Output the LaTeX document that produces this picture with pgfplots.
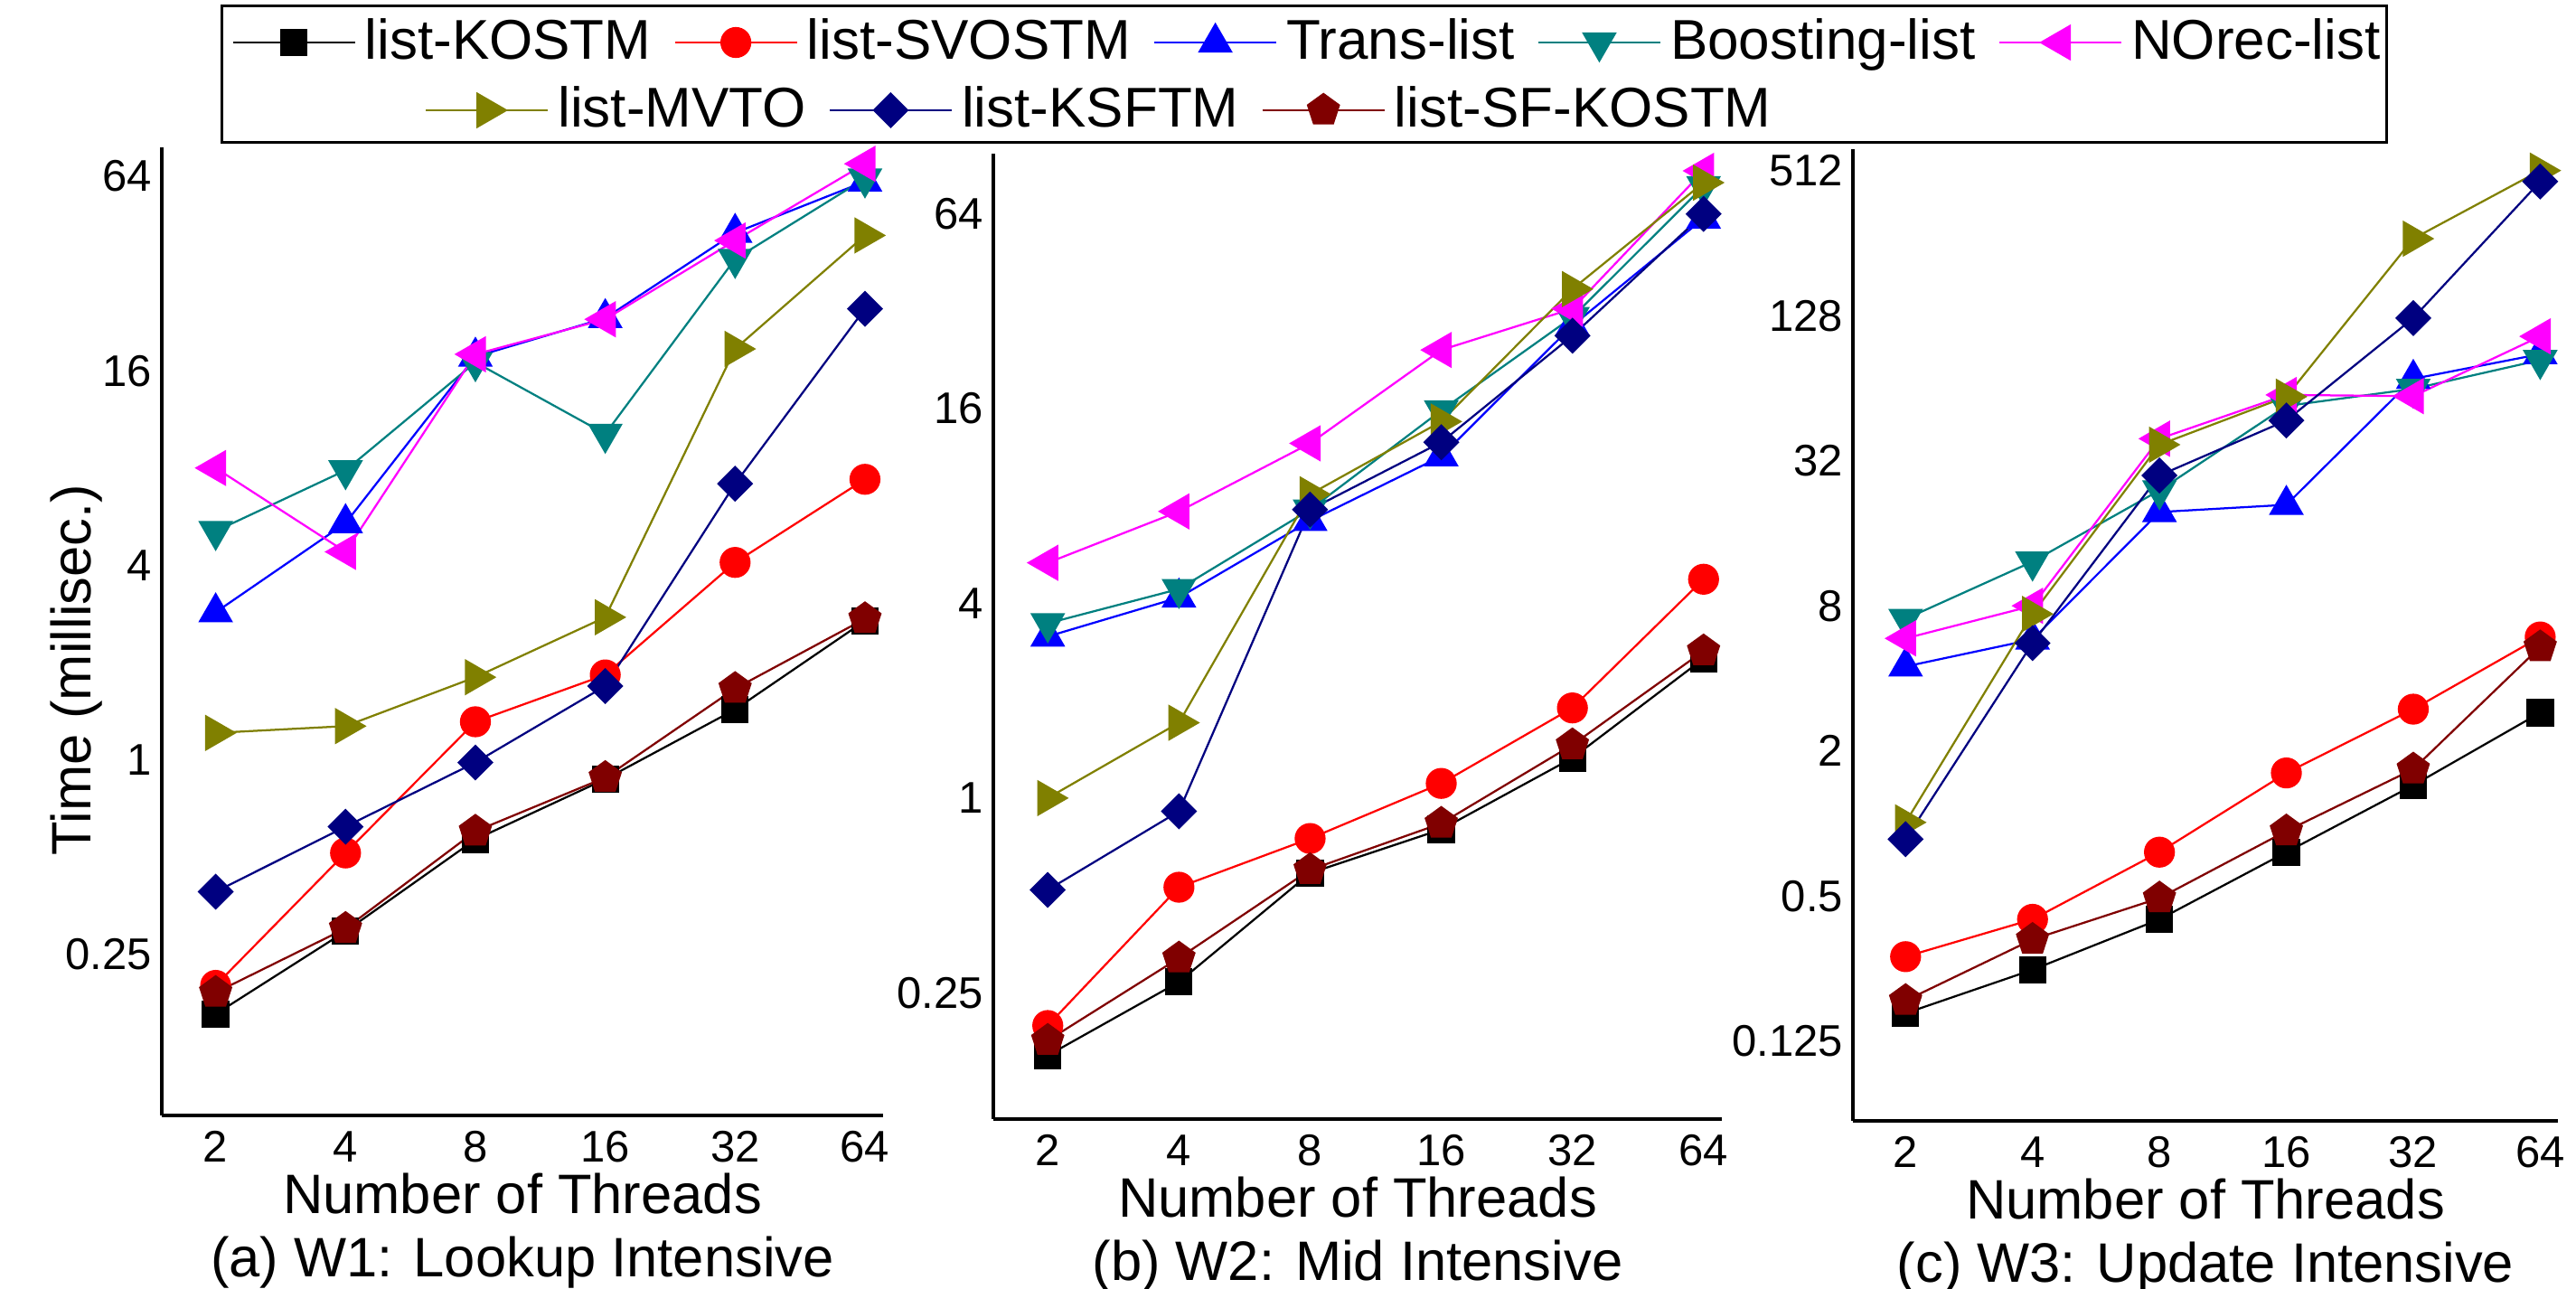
\documentclass[border=0pt]{standalone}
\usepackage{fontspec}
\setmainfont{Liberation Sans}
\usepackage{pgfplots}
\pgfplotsset{compat=1.18}
\usetikzlibrary{plotmarks}
\definecolor{cteal}{rgb}{0,0.5,0.5}
\definecolor{colive}{rgb}{0.5,0.5,0}
\definecolor{cnavy}{rgb}{0,0,0.5}
\definecolor{cdred}{rgb}{0.5,0,0}
\definecolor{cmag}{rgb}{1,0,1}
\definecolor{cred}{rgb}{1,0,0}
\definecolor{cblue}{rgb}{0,0,1}
\tikzset{
 pKO/.style={black, line width=0.45pt, mark=square*, mark size=2.8pt, mark options={solid}},
 pSV/.style={cred, line width=0.45pt, mark=*, mark size=3.2pt, mark options={solid}},
 pTR/.style={cblue, line width=0.45pt, mark=triangle*, mark size=4pt, mark options={solid}},
 pBO/.style={cteal, line width=0.45pt, mark=triangle*, mark size=4pt, mark options={solid, rotate=180}},
 pNO/.style={cmag, line width=0.45pt, mark=triangle*, mark size=4.2pt, mark options={solid, rotate=90}},
 pMV/.style={colive, line width=0.45pt, mark=triangle*, mark size=4.2pt, mark options={solid, rotate=-90}},
 pKS/.style={cnavy, line width=0.45pt, mark=square*, mark size=2.6pt, mark options={solid, rotate=45}},
 pSF/.style={cdred, line width=0.45pt, mark=pentagon*, mark size=3.6pt, mark options={solid}},
}
\pgfplotsset{
 scale only axis,
 axis lines=left, axis line style={-, line width=0.9pt},
 major tick length=0pt, minor tick length=0pt,
 tick label style={font=\fontsize{9.8}{11}\selectfont},
 yticklabel style={inner xsep=2pt},
 xlabel style={font=\fontsize{12.3}{14}\selectfont, at={(axis description cs:0.5,0)}, anchor=base, yshift=-21.6pt, inner sep=0pt},
 title style={font=\fontsize{12.3}{14}\selectfont, at={(axis description cs:0.5,0)}, anchor=base, yshift=-41.6pt, inner sep=0pt},
 legend style={draw=none, fill=none, font=\fontsize{12.4}{14}\selectfont, anchor=center, /tikz/every odd column/.append style={column sep=0pt}, /tikz/every even column/.append style={column sep=3pt}},
 legend columns=-1,
 legend image code/.code={\draw[mark repeat=2,mark phase=2] plot coordinates {(0pt,0pt) (13.5pt,0pt) (27pt,0pt)};},
}
\begin{document}
\begin{tikzpicture}
\path[use as bounding box] (0pt,0pt) rectangle (570pt,285pt);
% Panel (a)
\begin{axis}[xmode=log, ymode=log, log basis x=2, log basis y=2,
  xmin=1.5, xmax=70.5, clip=false,
  xtick={2,4,8,16,32,64}, xticklabels={2,4,8,16,32,64},
  xlabel={Number of Threads},
  at={(35.8pt,38.2pt)}, anchor=south west,
  width=159.6pt, height=214.2pt, ymin=0.0791, ymax=78.7,
  ytick={0.25,1,4,16,64}, yticklabels={0.25,1,4,16,64},
  ylabel={Time (millisec.)},
  ylabel style={font=\fontsize{12.3}{14}\selectfont, at={(axis description cs:-0.118,0.46)}, anchor=center},
  title={(a) W1: Lookup Intensive},
  legend style={at={(1.5927,1.1083)}}]
\addplot[pKO] coordinates {(2,0.163)(4,0.294)(8,0.566)(16,0.87)(32,1.43)(64,2.69)};
\addlegendentry{list-KOSTM}
\addplot[pSV] coordinates {(2,0.20)(4,0.514)(8,1.31)(16,1.83)(32,4.08)(64,7.38)};
\addlegendentry{list-SVOSTM}
\addplot[pTR] coordinates {(2,2.86)(4,5.4)(8,17.7)(16,23.3)(32,42.8)(64,61.7)};
\addlegendentry{Trans-list}
\addplot[pBO] coordinates {(2,5.1)(4,7.87)(8,17.0)(16,10.2)(32,35.5)(64,63)};
\addlegendentry{Boosting-list}
\addplot[pNO] coordinates {(2,8.0)(4,4.4)(8,18)(16,23.1)(32,40.5)(64,70)};
\addlegendentry{NOrec-list}
\addplot[pMV] coordinates {(2,1.21)(4,1.27)(8,1.80)(16,2.76)(32,18.7)(64,42)};
\addplot[pKS] coordinates {(2,0.39)(4,0.62)(8,0.98)(16,1.69)(32,7.15)(64,24.9)};
\addplot[pSF] coordinates {(2,0.19)(4,0.30)(8,0.60)(16,0.88)(32,1.66)(64,2.73)};
\end{axis}
% Panel (b)
\begin{axis}[xmode=log, ymode=log, log basis x=2, log basis y=2,
  xmin=1.5, xmax=70.5, clip=false,
  xtick={2,4,8,16,32,64}, xticklabels={2,4,8,16,32,64},
  xlabel={Number of Threads},
  at={(219.8pt,37.4pt)}, anchor=south west,
  width=161.2pt, height=213.6pt, ymin=0.1017, ymax=98.3,
  ytick={0.25,1,4,16,64}, yticklabels={0.25,1,4,16,64},
  title={(b) W2: Mid Intensive},
  legend style={at={(0.150,1.045)}}]
\addlegendimage{pMV}
\addlegendentry{list-MVTO}
\addlegendimage{pKS}
\addlegendentry{list-KSFTM}
\addlegendimage{pSF}
\addlegendentry{list-SF-KOSTM}
\addplot[pKO] coordinates {(2,0.16)(4,0.27)(8,0.586)(16,0.80)(32,1.33)(64,2.7)};
\addplot[pSV] coordinates {(2,0.198)(4,0.53)(8,0.75)(16,1.11)(32,1.9)(64,4.75)};
\addplot[pTR] coordinates {(2,3.16)(4,4.17)(8,7.2)(16,11.4)(32,28.9)(64,62)};
\addplot[pBO] coordinates {(2,3.47)(4,4.43)(8,7.8)(16,15.8)(32,30.7)(64,78)};
\addplot[pNO] coordinates {(2,5.34)(4,7.7)(8,12.5)(16,24.3)(32,32.6)(64,87)};
\addplot[pMV] coordinates {(2,1.0)(4,1.71)(8,8.7)(16,14.6)(32,37.5)(64,80)};
\addplot[pKS] coordinates {(2,0.52)(4,0.91)(8,7.8)(16,12.6)(32,26.9)(64,64)};
\addplot[pSF] coordinates {(2,0.178)(4,0.32)(8,0.60)(16,0.835)(32,1.46)(64,2.85)};
\end{axis}
% Panel (c)
\begin{axis}[xmode=log, ymode=log, log basis x=2, log basis y=2,
  xmin=1.5, xmax=70.5, clip=false,
  xtick={2,4,8,16,32,64}, xticklabels={2,4,8,16,32,64},
  xlabel={Number of Threads},
  at={(410pt,37pt)}, anchor=south west,
  width=156pt, height=215pt, ymin=0.0583, ymax=628,
  ytick={0.125,0.5,2,8,32,128,512}, yticklabels={0.125,0.5,2,8,32,128,512},
  title={(c) W3: Update Intensive}]
\addplot[pKO] coordinates {(2,0.163)(4,0.247)(8,0.40)(16,0.76)(32,1.44)(64,2.88)};
\addplot[pSV] coordinates {(2,0.28)(4,0.40)(8,0.76)(16,1.62)(32,2.98)(64,5.94)};
\addplot[pTR] coordinates {(2,4.48)(4,5.8)(8,19.6)(16,21)(32,70)(64,88.6)};
\addplot[pBO] coordinates {(2,7.06)(4,12.2)(8,24.1)(16,54)(32,63.6)(64,83.7)};
\addplot[pNO] coordinates {(2,5.86)(4,8.0)(8,39.5)(16,60)(32,59.3)(64,105)};
\addplot[pMV] coordinates {(2,1.01)(4,7.4)(8,37.3)(16,59)(32,267)(64,512)};
\addplot[pKS] coordinates {(2,0.86)(4,5.6)(8,27.8)(16,47)(32,125)(64,461)};
\addplot[pSF] coordinates {(2,0.184)(4,0.33)(8,0.49)(16,0.93)(32,1.68)(64,5.4)};
\end{axis}
\draw[line width=0.6pt] (49pt,253.6pt) rectangle (528pt,283.8pt);
\end{tikzpicture}
\end{document}
